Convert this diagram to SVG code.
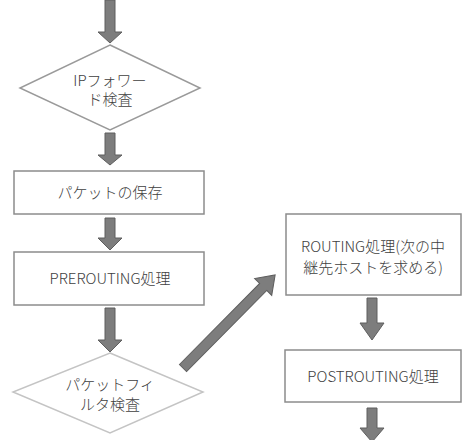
<svg xmlns="http://www.w3.org/2000/svg" width="474" height="440" viewBox="0 0 474 440">
<style>
.box{fill:#fff;stroke:#8c8c8c;stroke-width:1.5}
.dia{fill:#fff;stroke:#9a9a9a;stroke-width:1.5}
.dia2{fill:#fff;stroke:#c4c4c4;stroke-width:1.5}
.t{font-family:"Noto Sans CJK JP","Noto Sans",sans-serif;font-size:15px;font-weight:300;fill:#404040;text-anchor:middle}
.arr{fill:#7d7d7d;stroke:#5e5e5e;stroke-width:1}
</style>
<rect width="474" height="440" fill="#fff"/>
<g id="connectors">
<polygon class="arr" points="105,0 115,0 115,32 122,32 110,43 98,32 105,32"/>
<polygon class="arr" points="105,133 115,133 115,155 122,155 110,165 98,155 105,155"/>
<polygon class="arr" points="105,218 115,218 115,238 122,238 110,250 98,238 105,238"/>
<polygon class="arr" points="105,308 115,308 115,340 122,340 110,352 98,340 105,340"/>
<polygon class="arr" points="367,298 377,298 377,323 384,323 372,340 360,323 367,323"/>
<polygon class="arr" points="367,408 377,408 377,428 384,428 372,442 360,428 367,428"/>
<polygon class="arr" transform="translate(183,368) rotate(-45.3)" points="0,-5 114,-5 114,-12 131,0 114,12 114,5 0,5"/>
</g>
<g id="n1">
<polygon class="dia" points="110,45 200,88 110,130 20,88"/>
<text class="t" x="110" y="86">IPフォワー</text>
<text class="t" x="110" y="105">ド検査</text>
</g>
<g id="n2">
<rect class="box" x="14" y="171" width="190" height="43"/>
<text class="t" x="110" y="198">パケットの保存</text>
</g>
<g id="n3">
<rect class="box" x="14" y="252" width="190" height="53"/>
<text class="t" x="110" y="284">PREROUTING処理</text>
</g>
<g id="n4">
<polygon class="dia2" points="110,353 203,392 110,433 13,392"/>
<text class="t" x="110" y="390">パケットフィ</text>
<text class="t" x="110" y="410">ルタ検査</text>
</g>
<g id="n5">
<rect class="box" x="286" y="214" width="175" height="81"/>
<text class="t" x="373" y="252">ROUTING処理(次の中</text>
<text class="t" x="373" y="273">継先ホストを求める)</text>
</g>
<g id="n6">
<rect class="box" x="285" y="350" width="176" height="52"/>
<text class="t" x="373" y="382">POSTROUTING処理</text>
</g>
</svg>
